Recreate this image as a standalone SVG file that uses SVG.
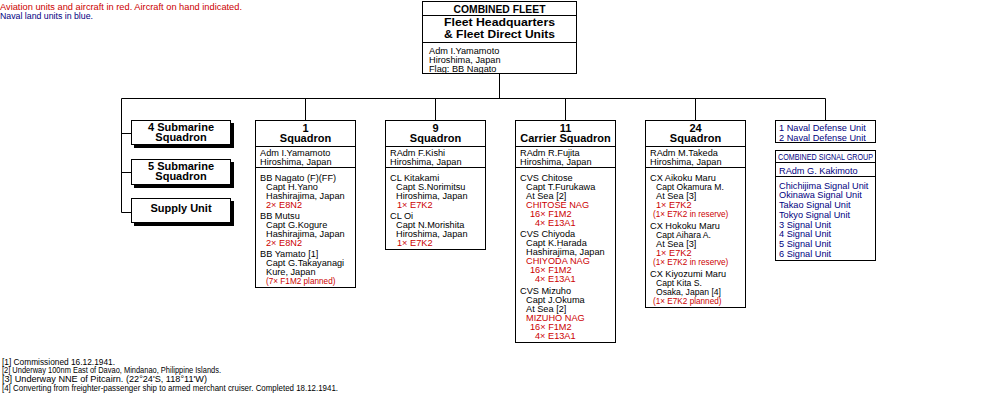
<svg xmlns="http://www.w3.org/2000/svg" width="1000" height="400" viewBox="0 0 1000 400">
<style>
.b{fill:#fff;stroke:#000;stroke-width:1}
.sh{fill:#000}
.ln{stroke:#000;stroke-width:1;fill:none}
text{font-family:"Liberation Sans",Arial,sans-serif;font-size:9.2px;fill:#000}
.r{fill:#c00}
.n{fill:#000080}
.h{font-weight:bold;font-size:11px;text-anchor:middle}
.hb{font-weight:bold;font-size:11px;text-anchor:middle}
.s{font-size:8.2px}
.c{font-size:8.6px}
.fn{font-size:9px}
</style>
<rect width="1000" height="400" fill="#fff"/>
<g id="legend">
<text x="0" y="10" class="r" textLength="242" lengthAdjust="spacingAndGlyphs">Aviation units and aircraft in red. Aircraft on hand indicated.</text>
<text x="0" y="19" class="n" textLength="93" lengthAdjust="spacingAndGlyphs">Naval land units in blue.</text>
</g>
<g id="connectors">
<path class="ln" d="M499.5 73.5V98.5M121.5 98.5H825.5M305.5 98.5V120.5M435.5 98.5V120.5M565.5 98.5V120.5M695.5 98.5V120.5M825.5 98.5V120.5M121.5 98.5V212.5M121.5 133.5H131.5M121.5 172.5H131.5M121.5 212.5H131.5"/>
</g>
<g id="combined-fleet">
<rect class="b" x="422.5" y="1.5" width="154" height="72"/>
<path class="ln" d="M422.5 15.5H576.5M422.5 42.5H576.5"/>
<text x="499.5" y="13" class="hb" font-size="12" textLength="92" lengthAdjust="spacingAndGlyphs">COMBINED FLEET</text>
<text x="499.5" y="25.5" class="hb" textLength="111" lengthAdjust="spacingAndGlyphs">Fleet Headquarters</text>
<text x="499.5" y="37.8" class="hb" textLength="111" lengthAdjust="spacingAndGlyphs">&amp; Fleet Direct Units</text>
<text x="429" y="54.2">Adm I.Yamamoto</text>
<text x="429" y="63">Hiroshima, Japan</text>
<text x="429" y="71.6">Flag: BB Nagato</text>
</g>
<g id="sub4">
<rect class="sh" x="134" y="123" width="100" height="25"/>
<rect class="b" x="131.5" y="120.5" width="99" height="24"/>
<text x="181" y="130.6" class="h">4 Submarine</text>
<text x="181" y="140.6" class="h">Squadron</text>
</g>
<g id="sub5">
<rect class="sh" x="134" y="162" width="100" height="26"/>
<rect class="b" x="131.5" y="159.5" width="99" height="25"/>
<text x="181" y="169.9" class="h">5 Submarine</text>
<text x="181" y="179.9" class="h">Squadron</text>
</g>
<g id="supply">
<rect class="sh" x="134" y="201" width="100" height="25"/>
<rect class="b" x="131.5" y="198.5" width="99" height="24"/>
<text x="181" y="212.2" class="h">Supply Unit</text>
</g>
<g id="sq1">
<rect class="b" x="255.5" y="120.5" width="100" height="167"/>
<path class="ln" d="M255.5 146.5H355.5M255.5 167.5H355.5"/>
<text x="305.5" y="131.5" class="h">1</text>
<text x="305.5" y="141.5" class="h">Squadron</text>
<text x="260" y="156">Adm I.Yamamoto</text>
<text x="260" y="165">Hiroshima, Japan</text>
<text x="260" y="180.5">BB Nagato (F)(FF)</text>
<text x="266" y="189.5">Capt H.Yano</text>
<text x="266" y="198.5">Hashirajima, Japan</text>
<text x="266" y="207.5" class="r">2× E8N2</text>
<text x="260" y="219">BB Mutsu</text>
<text x="266" y="228">Capt G.Kogure</text>
<text x="266" y="237">Hashirajima, Japan</text>
<text x="266" y="246" class="r">2× E8N2</text>
<text x="260" y="256.5">BB Yamato [1]</text>
<text x="266" y="265.5">Capt G.Takayanagi</text>
<text x="266" y="274.5">Kure, Japan</text>
<text x="266" y="283.5" class="r s">(7× F1M2 planned)</text>
</g>
<g id="sq9">
<rect class="b" x="385.5" y="120.5" width="100" height="129"/>
<path class="ln" d="M385.5 146.5H485.5M385.5 167.5H485.5"/>
<text x="435.5" y="131.5" class="h">9</text>
<text x="435.5" y="141.5" class="h">Squadron</text>
<text x="390" y="156">RAdm F.Kishi</text>
<text x="390" y="165">Hiroshima, Japan</text>
<text x="390" y="180.5">CL Kitakami</text>
<text x="396" y="189.5">Capt S.Norimitsu</text>
<text x="396" y="198.5">Hiroshima, Japan</text>
<text x="397" y="207.5" class="r">1× E7K2</text>
<text x="390" y="219">CL Oi</text>
<text x="396" y="228">Capt N.Morishita</text>
<text x="396" y="237">Hiroshima, Japan</text>
<text x="397" y="246" class="r">1× E7K2</text>
</g>
<g id="sq11">
<rect class="b" x="515.5" y="120.5" width="100" height="222"/>
<path class="ln" d="M515.5 146.5H615.5M515.5 167.5H615.5"/>
<text x="565.5" y="131.5" class="h">11</text>
<text x="565.5" y="141.5" class="h">Carrier Squadron</text>
<text x="520" y="156">RAdm R.Fujita</text>
<text x="520" y="165">Hiroshima, Japan</text>
<text x="520" y="180.5">CVS Chitose</text>
<text x="526" y="189.5">Capt T.Furukawa</text>
<text x="526" y="198.5">At Sea [2]</text>
<text x="526" y="207.5" class="r">CHITOSE NAG</text>
<text x="530" y="216.5" class="r">16× F1M2</text>
<text x="535" y="225.5" class="r">4× E13A1</text>
<text x="520" y="237">CVS Chiyoda</text>
<text x="526" y="246">Capt K.Harada</text>
<text x="526" y="255">Hashirajima, Japan</text>
<text x="526" y="264" class="r">CHIYODA NAG</text>
<text x="530" y="273" class="r">16× F1M2</text>
<text x="535" y="282" class="r">4× E13A1</text>
<text x="520" y="294">CVS Mizuho</text>
<text x="526" y="303">Capt J.Okuma</text>
<text x="526" y="312">At Sea [2]</text>
<text x="526" y="321" class="r">MIZUHO NAG</text>
<text x="530" y="330" class="r">16× F1M2</text>
<text x="535" y="339" class="r">4× E13A1</text>
</g>
<g id="sq24">
<rect class="b" x="645.5" y="120.5" width="100" height="187"/>
<path class="ln" d="M645.5 146.5H745.5M645.5 167.5H745.5"/>
<text x="695.5" y="131.5" class="h">24</text>
<text x="695.5" y="141.5" class="h">Squadron</text>
<text x="650" y="156">RAdm M.Takeda</text>
<text x="650" y="165">Hiroshima, Japan</text>
<text x="650" y="180.5">CX Aikoku Maru</text>
<text x="656" y="189.5" class="c">Capt Okamura M.</text>
<text x="656" y="198.5">At Sea [3]</text>
<text x="656" y="207.5" class="r">1× E7K2</text>
<text x="653" y="216.5" class="r s">(1× E7K2 in reserve)</text>
<text x="650" y="228.5">CX Hokoku Maru</text>
<text x="656" y="237.5" class="c">Capt Aihara A.</text>
<text x="656" y="246.5">At Sea [3]</text>
<text x="656" y="255.5" class="r">1× E7K2</text>
<text x="653" y="264.5" class="r s">(1× E7K2 in reserve)</text>
<text x="650" y="277">CX Kiyozumi Maru</text>
<text x="656" y="286" class="c">Capt Kita S.</text>
<text x="656" y="295" class="c">Osaka, Japan [4]</text>
<text x="653" y="304" class="r s">(1× E7K2 planned)</text>
</g>
<g id="naval-defense">
<rect class="b" x="775.5" y="120.5" width="100" height="22"/>
<text x="779" y="130.8" class="n">1 Naval Defense Unit</text>
<text x="779" y="140.5" class="n">2 Naval Defense Unit</text>
</g>
<g id="signal-group">
<rect class="b" x="775.5" y="150.5" width="100" height="110"/>
<path class="ln" d="M775.5 162.5H875.5M775.5 176.5H875.5"/>
<text x="778" y="160.3" class="n" font-size="8.5" textLength="95" lengthAdjust="spacingAndGlyphs">COMBINED SIGNAL GROUP</text>
<text x="779" y="173.8" class="n">RAdm G. Kakimoto</text>
<text x="779" y="188.5" class="n">Chichijima Signal Unit</text>
<text x="779" y="198.3" class="n">Okinawa Signal Unit</text>
<text x="779" y="208" class="n">Takao Signal Unit</text>
<text x="779" y="217.8" class="n">Tokyo Signal Unit</text>
<text x="779" y="227.5" class="n">3 Signal Unit</text>
<text x="779" y="237.3" class="n">4 Signal Unit</text>
<text x="779" y="247" class="n">5 Signal Unit</text>
<text x="779" y="256.8" class="n">6 Signal Unit</text>
</g>
<g id="footnotes">
<text x="2" y="364.5" class="fn" textLength="113" lengthAdjust="spacingAndGlyphs">[1] Commissioned 16.12.1941.</text>
<text x="2" y="373.2" class="fn" textLength="219" lengthAdjust="spacingAndGlyphs">[2] Underway 100nm East of Davao, Mindanao, Philippine Islands.</text>
<text x="2" y="381.9" class="fn" textLength="205" lengthAdjust="spacingAndGlyphs">[3] Underway NNE of Pitcairn. (22°24'S, 118°11'W)</text>
<text x="2" y="390.6" class="fn" textLength="336" lengthAdjust="spacingAndGlyphs">[4] Converting from freighter-passenger ship to armed merchant cruiser. Completed 18.12.1941.</text>
</g>
</svg>
